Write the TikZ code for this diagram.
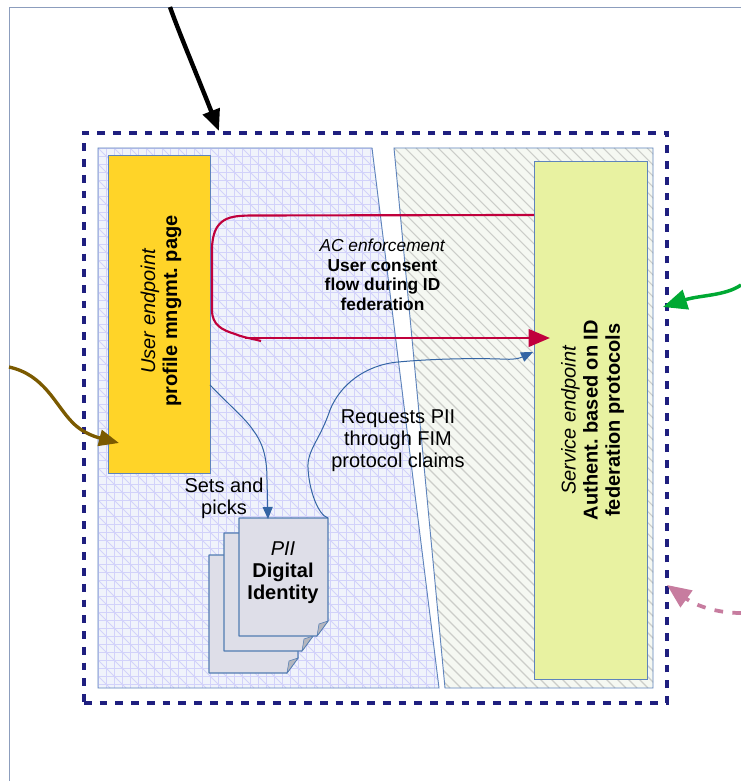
\documentclass[tikz,border=0pt]{standalone}
\usepackage{fontspec}
\setmainfont{Liberation Sans}
\usetikzlibrary{arrows.meta,calc}
\definecolor{navy}{HTML}{1F1F7F}
\definecolor{edgeblue}{HTML}{3465A4}
\definecolor{paneledge}{HTML}{5F84BC}
\definecolor{leftfill}{HTML}{F0F3FB}
\definecolor{gridc}{HTML}{D2D2FA}
\definecolor{rightfill}{HTML}{F5F8F2}
\definecolor{hatchc}{HTML}{CBCDC9}
\definecolor{yellowbox}{HTML}{FFD428}
\definecolor{greenbox}{HTML}{E8F2A1}
\definecolor{pagefill}{HTML}{DEDEE8}
\definecolor{foldfill}{HTML}{B4B6BE}
\definecolor{redline}{HTML}{C0003C}
\definecolor{greenline}{HTML}{00A933}
\definecolor{brownline}{HTML}{7B5A00}
\definecolor{pinkline}{HTML}{C77C9F}
\definecolor{outerline}{HTML}{8C9DBD}
\tikzset{
  x=0.75pt,y=-0.75pt,
  box/.style={draw=paneledge,line width=0.6pt,inner sep=0pt,outer sep=0pt},
  pagebody/.style={draw=edgeblue!85,line width=0.8pt,fill=pagefill,line join=round},
  foldbody/.style={draw=edgeblue!85,line width=0.4pt,fill=foldfill},
  big/.style={font=\fontsize{15}{16.6}\selectfont,align=center,inner sep=0pt},
  small/.style={font=\fontsize{13}{14.6}\selectfont,align=center,inner sep=0pt},
  thinblue/.style={edgeblue,line width=0.75pt,-{Triangle[length=9pt,width=7.5pt]}},
}
\newcommand{\docpage}[2]{%
  \begin{scope}[shift={(#1,#2)}]
    \draw[pagebody] (239,518)--(328,518)--(328,621)--(317,636)--(239,636)--cycle;
    \draw[foldbody] (317,636)--(328,621)--(319,624)--cycle;
  \end{scope}}
\frenchspacing
\begin{document}
\begin{tikzpicture}
\useasboundingbox (0,0) rectangle (741,781);
\fill[white] (0,0) rectangle (741,781);
% outer frame
\coordinate (outerA) at (9,781);
\coordinate (outerB) at (9,7);
\coordinate (outerC) at (741,7);
\draw[outerline,line width=0.7pt] (outerA)--(outerB)--(outerC);
% left panel
\fill[leftfill] (98,148)--(372,148)--(439,688)--(98,688)--cycle;
\begin{scope}
  \clip (98,148)--(372,148)--(439,688)--(98,688)--cycle;
  \foreach \i in {0,...,44} {\draw[gridc,line width=1pt] (98.5+8*\i,148)--(98.5+8*\i,688);}
  \foreach \i in {0,...,68} {\draw[gridc,line width=1pt] (98,148.5+8*\i)--(440,148.5+8*\i);}
  \foreach \i in {-36,...,24} {\draw[gridc,line width=0.7pt] (98+16*\i,148)--(98+16*\i+540,688);}
\end{scope}
\draw[paneledge,line width=0.7pt] (98,148)--(372,148)--(439,688)--(98,688)--cycle;
% right panel
\fill[rightfill] (394,148)--(653,148)--(653,688)--(445,688)--cycle;
\begin{scope}
  \clip (394,148)--(653,148)--(653,688)--(445,688)--cycle;
  \foreach \i in {-50,...,24} {\draw[hatchc,line width=0.8pt] (394+11*\i,148)--(394+11*\i+540,688);}
\end{scope}
\draw[paneledge,line width=0.7pt] (394,148)--(653,148)--(653,688)--(445,688)--cycle;
% dashed frame
\node[draw=navy,line width=3pt,dash pattern=on 5.8pt off 6pt,inner sep=0pt,outer sep=0pt,minimum width=437.25pt,minimum height=427.5pt,anchor=north west] (frame) at (84,133) {};
% boxes
\node[box,fill=yellowbox,minimum width=76.5pt,minimum height=238.5pt,anchor=north west] (user) at (108,155) {};
\node[box,fill=greenbox,minimum width=84.75pt,minimum height=388.5pt,anchor=north west] (service) at (534,161) {};
\node[big,rotate=90] (userlabel) at (161,311) {\textit{User endpoint}\\\textbf{profile mngmt. page}};
\node[big,rotate=90] (servicelabel) at (592.5,420) {\textit{Service endpoint}\\\textbf{Authent. based on ID}\\\textbf{federation protocols}};
% pages
\docpage{-30}{37}
\docpage{-15}{15}
\docpage{0}{0}
\node[inner sep=0pt,outer sep=0pt,minimum width=66.75pt,minimum height=88.5pt,anchor=north west] (pii) at (239,518) {};
\node[big] (piilabel) at (283,573) {\textit{PII}\\\textbf{Digital}\\\textbf{Identity}};
% texts
\node[small] (aclabel) at (382.5,275) {\textit{AC enforcement}\\\textbf{User consent}\\\textbf{flow during ID}\\\textbf{federation}};
\node[big] (reqlabel) at (398,441) {Requests PII\\through FIM\\protocol claims};
\node[big] (setslabel) at (224,498) {Sets and\\picks};
% red connector
\coordinate (redend) at (550,338);
\coordinate (redstart) at ($(service.north west)!0.1042!(service.south west)$);
\coordinate (redtail) at (261,341);
\draw[redline,line width=1.6pt,line join=round] (redstart)--(250,215.5) .. controls (232,216) and (212,216) .. (212,250)
  -- (212,310) .. controls (212,325) and (222,330) .. (235,334) .. controls (245,338) and (250,338) .. (redtail);
\draw[redline,line width=2.2pt,-{Triangle[length=16pt,width=13pt]}] (245,338)--(redend);
% blue connectors
\coordinate (usertap) at ($(user.north east)!0.723!(user.south east)$);
\coordinate (svcend) at (533,352);
\draw[thinblue] (usertap) .. controls (228,404) and (245,418) .. (253,430)
  .. controls (262,442) and (267,455) .. (267,480) -- (268,519);
\draw[thinblue] (pii.north east) .. controls (318,515) and (309,490) .. (308,468)
  .. controls (307,450) and (320,440) .. (330,410)
  .. controls (340,385) and (365,365) .. (398,362)
  .. controls (430,359) and (470,358) .. (500,359) .. controls (515,360) and (520,358) .. (svcend);
% incoming arrows
\coordinate (blackstart) at (170,7);
\coordinate (blackend) at (219,131);
\draw[black,line width=3.3pt,-{Triangle[length=16pt,width=13pt]}] (blackstart) .. controls (178,30) and (197,75) .. (blackend);
\coordinate (greenstart) at (741,285);
\coordinate (greenend) at (663,307);
\draw[greenline,line width=2.6pt,-{Triangle[length=18pt,width=15pt]}] (greenstart) .. controls (725,296) and (700,295) .. (greenend);
\coordinate (brownstart) at (9,367);
\coordinate (brownend) at (119,443);
\draw[brownline,line width=2.5pt,-{Triangle[length=15pt,width=12pt]}] (brownstart) .. controls (45,375) and (55,405) .. (73,423) .. controls (85,435) and (100,438) .. (brownend);
\coordinate (pinkstart) at (741,613);
\coordinate (pinkend) at (667,585);
\draw[pinkline,line width=2.8pt,dash pattern=on 6.5pt off 7pt,-{Triangle[length=18pt,width=15pt]}] (pinkstart) .. controls (715,613) and (695,605) .. (pinkend);
\end{tikzpicture}
\end{document}
